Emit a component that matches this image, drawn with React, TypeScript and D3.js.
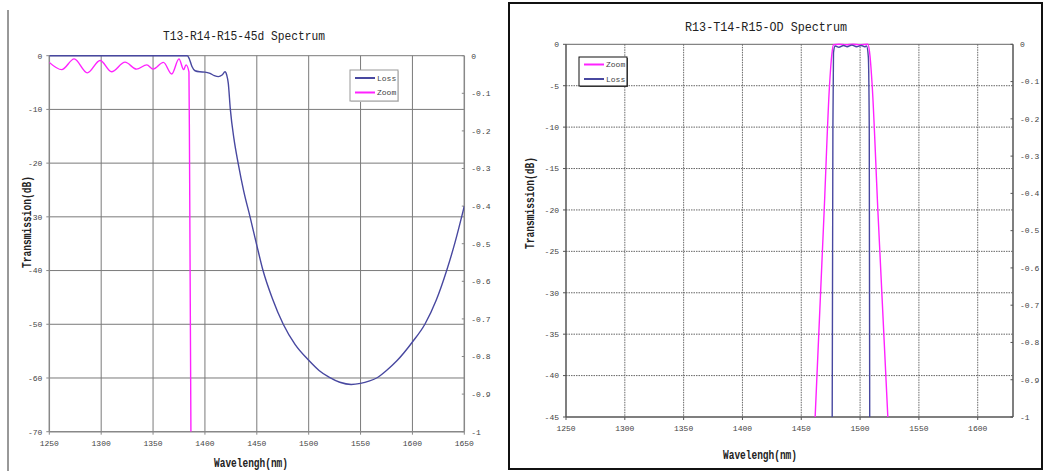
import React from 'react';
import * as d3 from 'd3';

// ---- data ----
const leftTitle = 'T13-R14-R15-45d Spectrum';
const rightTitle = 'R13-T14-R15-OD Spectrum';

const leftXTicks = [1250, 1300, 1350, 1400, 1450, 1500, 1550, 1600, 1650];
const leftYTicks = [0, -10, -20, -30, -40, -50, -60, -70];
const rightXTicks = [1250, 1300, 1350, 1400, 1450, 1500, 1550, 1600];
const rightYTicks = [0, -5, -10, -15, -20, -25, -30, -35, -40, -45];
const zoomTicks = [0, -0.1, -0.2, -0.3, -0.4, -0.5, -0.6, -0.7, -0.8, -0.9, -1];

// left chart, Loss (dB)
const leftLossWl = [1250, 1320, 1383, 1385, 1387.5, 1390.5, 1395, 1400, 1405, 1409, 1413, 1416.5, 1419.4, 1421, 1422.5, 1424.5, 1428, 1432, 1437.5, 1443.5, 1450, 1456, 1465, 1475.5, 1487, 1500, 1510, 1520, 1530, 1541, 1550, 1558, 1565.5, 1575, 1585, 1600, 1612, 1623, 1633, 1641, 1650];
const leftLossDb = [0, 0, 0, -0.6, -2.0, -2.8, -3.0, -3.05, -3.3, -3.7, -3.9, -3.6, -3.0, -3.6, -5.1, -10, -15.5, -20, -25.3, -30, -35.3, -40, -45.2, -50, -53.8, -56.7, -58.6, -59.9, -60.8, -61.2, -61.0, -60.6, -60, -58.6, -56.8, -53.3, -50, -45.5, -40, -34.8, -28];

// left chart, Zoom
const leftZoomWl = [1250, 1262, 1274, 1286.6, 1299, 1310, 1323, 1334, 1344, 1350, 1360, 1368, 1375, 1379.5, 1381.8, 1384.6, 1385.2, 1386.5];
const leftZoomDb = [-1.25, -2.6, -0.6, -3.2, -0.9, -3.0, -1.2, -2.5, -1.7, -2.5, -1.25, -3.4, -0.6, -2.6, -1.7, -3, -20, -70];

// right chart, Zoom
const rightZoomWl = [1461.8, 1469.5, 1474.0, 1476.0, 1477.4, 1482, 1488, 1494, 1500, 1506.6, 1508.5, 1510.3, 1515.1, 1523.6];
const rightZoomDb = [-45, -20, -5, -1.2, -0.05, 0, -0.05, 0, -0.05, 0, -1.5, -5, -20, -45];

// right chart, Loss
const rightLossWl = [1476.3, 1476.9, 1477.4, 1478.8, 1482, 1486, 1489, 1493, 1497, 1501, 1504, 1505.5, 1507, 1507.8, 1508.2];
const rightLossDb = [-45, -10, -1, -0.2, -0.35, -0.15, -0.3, -0.1, -0.3, -0.15, -0.3, -0.2, -1.5, -10, -45];

const LOSS = '#4848a0';
const ZOOM = '#ff22ff';
const FONT = "'Liberation Mono', 'DejaVu Sans Mono', monospace";

type Pt = [number, number];
const zip = (a: number[], b: number[]): Pt[] => a.map((v, i) => [v, b[i]]);

function Panel(props: any) {
  const { id, box, xDomain, yDomain, xTicks, yTicks, series, legend, title, titleX, titleY,
    yTitleX, yTitleY, xTitleX, xTitleY, xLabelY, gridColor, gridDash, axisColor } = props;
  const x = d3.scaleLinear().domain(xDomain).range([box.left, box.right]);
  const y = d3.scaleLinear().domain(yDomain).range([box.bottom, box.top]);
  const y2 = d3.scaleLinear().domain([-1, 0]).range([box.bottom, box.top]);
  const line = d3.line<Pt>().x((d) => x(d[0])).y((d) => y(d[1])).curve(d3.curveMonotoneX);

  return (
    <g fontFamily={FONT}>
      <defs>
        <clipPath id={id}>
          <rect x={box.left} y={box.top - 2} width={box.right - box.left} height={box.bottom - box.top + 2} />
        </clipPath>
      </defs>
      <text x={titleX} y={titleY} textAnchor="middle" fontSize={13} fill="#222" textLength={162} lengthAdjust="spacingAndGlyphs">{title}</text>

      {/* grid */}
      {xTicks.filter((t: number) => t !== xDomain[0] && t !== xDomain[1]).map((t: number) => (
        <line key={'gx' + t} x1={x(t)} x2={x(t)} y1={box.top} y2={box.bottom} stroke={gridColor} strokeDasharray={gridDash} />
      ))}
      {yTicks.filter((t: number) => t !== yDomain[0]).map((t: number) => (
        <line key={'gy' + t} x1={box.left} x2={box.right} y1={y(t)} y2={y(t)} stroke={gridColor} strokeDasharray={t === 0 ? undefined : gridDash} />
      ))}

      {/* axes */}
      <line x1={box.left} x2={box.left} y1={box.top} y2={box.bottom} stroke={axisColor} strokeWidth={1.5} />
      <line x1={box.left} x2={box.right} y1={box.bottom} y2={box.bottom} stroke={axisColor} strokeWidth={1.5} />
      <line x1={box.right} x2={box.right} y1={box.top} y2={box.bottom} stroke={axisColor} strokeWidth={1.5} />
      {yTicks.map((t: number) => (
        <g key={'yt' + t}>
          <line x1={box.left - 3} x2={box.left} y1={y(t)} y2={y(t)} stroke={axisColor} />
          <text x={box.left - 7} y={y(t)} dy="0.35em" textAnchor="end" fontSize={8} fill="#444">{String(t)}</text>
        </g>
      ))}
      {xTicks.map((t: number) => (
        <g key={'xt' + t}>
          <line x1={x(t)} x2={x(t)} y1={box.bottom} y2={box.bottom + 3} stroke={axisColor} />
          <text x={x(t)} y={xLabelY} textAnchor="middle" fontSize={8} fill="#444">{String(t)}</text>
        </g>
      ))}
      {zoomTicks.map((t) => (
        <g key={'zt' + t}>
          <line x1={box.right - 2.5} x2={box.right} y1={y2(t)} y2={y2(t)} stroke={axisColor} />
          <text x={box.right + 7} y={y2(t)} dy="0.35em" fontSize={8} fill="#444">{String(t)}</text>
        </g>
      ))}

      {/* series */}
      <g clipPath={`url(#${id})`}>
        {series.map((s: any) => (
          <path key={s.name} d={line(zip(s.wl, s.db)) || ''} fill="none" stroke={s.color} strokeWidth={1.4} />
        ))}
      </g>

      {/* axis titles */}
      <text x={xTitleX} y={xTitleY} textAnchor="middle" fontSize={12} fontWeight="bold" fill="#222" textLength={74} lengthAdjust="spacingAndGlyphs">Wavelengh(nm)</text>
      <text transform={`translate(${yTitleX},${yTitleY}) rotate(-90)`} textAnchor="middle" fontSize={12} fontWeight="bold" fill="#222" textLength={92} lengthAdjust="spacingAndGlyphs">Transmission(dB)</text>

      {/* legend */}
      <rect x={legend.x + 1} y={legend.y + 1} width={legend.w} height={legend.h} fill={legend.shadow} />
      <rect x={legend.x} y={legend.y} width={legend.w} height={legend.h} fill="#fff" stroke={legend.stroke} />
      {legend.items.map((s: any, i: number) => {
        const ly = legend.y + legend.firstY + i * legend.step;
        return (
          <g key={'lg' + s.name}>
            <line x1={legend.x + 5} x2={legend.x + 25} y1={ly} y2={ly} stroke={s.color} strokeWidth={2} />
            <text x={legend.x + 27} y={ly} dy="0.35em" fontSize={8} fill="#444">{s.name}</text>
          </g>
        );
      })}
    </g>
  );
}

export default function App() {
  const leftLoss = { name: 'Loss', color: LOSS, wl: leftLossWl, db: leftLossDb };
  const leftZoom = { name: 'Zoom', color: ZOOM, wl: leftZoomWl, db: leftZoomDb };
  const rightLoss = { name: 'Loss', color: LOSS, wl: rightLossWl, db: rightLossDb };
  const rightZoom = { name: 'Zoom', color: ZOOM, wl: rightZoomWl, db: rightZoomDb };

  return (
    <svg width={1046} height={471} style={{ position: 'absolute', left: 0, top: 0, background: '#fff' }}>
      <rect width={1046} height={471} fill="#fff" />
      <line x1={8} x2={8} y1={10} y2={471} stroke="#333" />
      <Panel
        id="clipL"
        box={{ left: 49.3, right: 464.3, top: 55.7, bottom: 431.7 }}
        xDomain={[1250, 1650]}
        yDomain={[-70, 0]}
        xTicks={leftXTicks}
        yTicks={leftYTicks}
        series={[leftZoom, leftLoss]}
        legend={{ x: 350, y: 70, w: 48, h: 31, firstY: 8, step: 14.5, stroke: '#999', shadow: '#ddd', items: [leftLoss, leftZoom] }}
        title={leftTitle}
        titleX={244}
        titleY={40}
        yTitleX={31}
        yTitleY={222}
        xTitleX={251}
        xTitleY={467}
        xLabelY={446}
        gridColor="#7a7a7a"
        gridDash={undefined}
        axisColor="#888"
      />
      <rect x={509} y={3} width={533} height={466} fill="none" stroke="#111" strokeWidth={2} />
      <Panel
        id="clipR"
        box={{ left: 566, right: 1013, top: 44.3, bottom: 417 }}
        xDomain={[1250, 1630]}
        yDomain={[-45, 0]}
        xTicks={rightXTicks}
        yTicks={rightYTicks}
        series={[rightZoom, rightLoss]}
        legend={{ x: 579, y: 57, w: 48, h: 29, firstY: 7.5, step: 14.5, stroke: '#111', shadow: '#555', items: [rightZoom, rightLoss] }}
        title={rightTitle}
        titleX={766}
        titleY={31}
        yTitleX={534}
        yTitleY={203}
        xTitleX={760}
        xTitleY={459}
        xLabelY={431}
        gridColor="#666"
        gridDash="1.5,1"
        axisColor="#555"
      />
    </svg>
  );
}
